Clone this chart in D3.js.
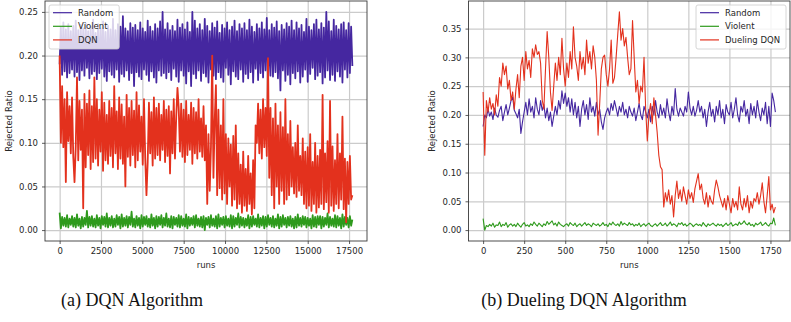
<!DOCTYPE html>
<html>
<head>
<meta charset="utf-8">
<script src="https://cdn.jsdelivr.net/npm/d3@7/dist/d3.min.js"></script>
<style>
  body { margin:0; background:#fff; }
  svg { display:block; }
  .axis text { font-family:"DejaVu Sans", sans-serif; font-size:8.5px; fill:#262626; }
  .axis path { display:none; }
  .axis line { stroke:#333; stroke-width:0.8; }
  .grid line { stroke:#cbcbcb; stroke-width:1.2; }
  .grid path { display:none; }
  .label { font-family:"DejaVu Sans", sans-serif; font-size:8.5px; fill:#262626; }
  .caption { font-family:"Liberation Serif", serif; font-size:18px; fill:#111; }
</style>
</head>
<body>
<div id="chart"></div>
<script>
// all ratios below are in thousandths (215 -> 0.215)

var seriesColors = ["#4527a0", "#2e9a1c", "#e3311d"];
var dqnNames = ["Random", "Violent", "DQN"];
var duelNames = ["Random", "Violent", "Dueling DQN"];
var captions = ["(a) DQN Algorithm", "(b) Dueling DQN Algorithm"];

// (a) one sample every 75 runs
var dqnStep = 75;
var dqnRandom = [
  190,232,178,238,182,230,175,236,180,228, 184,234,176,240,181,229,172,235,183,231,
  177,237,186,228,174,233,179,241,182,226, 173,236,180,231,185,239,176,227,171,234,
  182,230,178,242,175,229,184,236,170,233, 179,245,176,231,183,228,172,237,180,232,
  165,235,181,229,176,238,173,231,184,227, 178,240,171,233,182,228,175,236,169,231,
  183,239,177,250,180,230,174,237,181,229, 172,234,185,228,176,241,170,232,183,236,
  177,230,168,238,182,227,165,250,179,240, 174,231,183,236,171,229,180,242,176,234,
  169,228,184,237,177,232,173,239,181,226, 175,235,170,231,186,238,178,229,167,233,
  182,240,176,228,173,236,184,231,170,237, 179,229,174,241,181,233,169,227,185,236,
  172,231,180,238,175,230,183,243,171,229, 177,236,176,232,181,239,174,228,160,235,
  183,230,171,237,178,233,167,240,180,229, 174,238,182,231,169,235,176,227,184,242,
  170,233,179,229,186,236,173,241,177,230, 181,237,168,232,175,250,183,239,172,228,
  178,241,171,234,182,230,176,236,169,238, 184,229,175,237,180,233,188
];
var dqnViolent = [
  20,2,15,5,14,4,17,3,13,6, 16,4,14,3,18,5,13,2,15,4, 14,6,22,3,15,5,16,4,13,3,
  17,5,14,2,16,6,15,4,19,3, 14,5,16,3,13,4,17,6,15,2, 18,4,14,5,16,3,15,6,21,4,
  13,3,16,5,14,2,17,4,15,6, 16,4,13,3,18,5,14,2,16,4, 15,6,17,3,14,5,19,4,13,3,
  16,2,15,6,14,4,17,3,16,5, 13,4,18,2,15,5,14,6,16,3, 17,5,13,4,15,3,16,0,14,6,
  15,3,17,5,13,4,16,2,18,4, 14,6,15,3,16,5,13,4,17,2, 16,4,14,6,19,3,15,5,14,3,
  13,5,17,2,15,4,16,6,13,4, 18,3,14,5,16,2,15,4,17,6, 14,4,16,3,13,5,18,2,15,4,
  17,6,14,3,15,5,16,4,13,2, 15,3,18,5,14,4,16,6,15,3, 14,5,13,2,17,4,15,3,16,6,
  16,2,15,4,14,6,19,3,15,5, 13,4,17,3,16,5,14,2,18,4, 15,6,14,3,16,5,12
];
var dqnAgent = [
  200,100,165,95,150,55,158,102,142,88, 152,84,55,96,175,80,148,92,138,25,
  156,72,145,86,160,70,142,78,175,82, 150,74,138,90,158,68,146,80,132,76,
  148,85,140,72,165,88,136,70,152,82, 144,76,130,50,155,84,140,74,148,86,
  137,72,158,80,143,90,130,75,150,83, 40,78,146,88,135,74,152,82,140,86,
  145,80,132,92,148,78,138,85,142,65, 136,88,150,82,130,163,140,90,145,84,
  138,78,148,86,132,92,146,76,140,88, 135,82,150,90,128,84,142,80,120,30,
  110,45,95,200,60,125,166,40,138,48, 120,35,150,42,110,30,105,50,98,28,
  108,35,120,25,88,30,75,20,90,28, 70,22,85,30,65,18,80,25,120,100,
  145,88,138,82,150,95,140,85,197,60, 140,40,128,25,145,50,120,30,135,45,
  118,30,150,35,110,40,125,50,95,42, 100,38,120,45,85,40,105,30,90,25,
  95,28,110,22,78,30,100,20,85,26, 92,30,155,24,88,32,102,20,148,28,
  96,22,80,30,110,25,88,35,130,24, 82,9,78,30,85,35,40
];
var dqnXTicks = [0, 2500, 5000, 7500, 10000, 12500, 15000, 17500];
var dqnYTicks = [0, 0.05, 0.10, 0.15, 0.20, 0.25];

// (b) one sample every 10 runs
var duelStep = 10;
var duelRandom = [
  180,200,195,210,198,205,192,212,200,196,208,
  215,190,205,218,200,212,225,231,208,202,
  195,210,168,188,205,
  222,200,228,205,215,195,230,210,200,225,208,218,195,212,190,
  205,180,198,215,200,
  225,210,242,220,238,215,230,205,228,200,
  222,195,215,180,210,225,200,218,192,230,205,215,198,222,200,
  210,188,175,195,205,212,
  200,220,208,225,212,198,215,205,222,200,210,195,215,205,
  198,212,190,205,220,200,192,215,205,195,210,188,215,200,225,205,195,218,200,212,
  195,228,205,190,215,
  200,246,210,198,212,
  205,198,215,205,240,212,200,215,198,208,
  225,205,215,195,210,180,205,222,198,210,
  188,215,200,225,195,210,185,218,205,200,
  222,195,210,230,200,188,215,205,225,198,
  210,185,220,200,215,195,225,205,190,212,
  200,222,185,215,180,238,225,205
];
var duelViolent = [
  20,0,8,6,10,7,12,5,9,8, 14,6,10,8,13,5,9,11,7,10, 6,12,8,5,10,13,7,9,6,11,
  8,14,10,7,12,9,6,11,8,15, 10,13,16,9,12,7,14,10,8,6, 9,11,7,13,10,8,12,6,9,11,
  7,10,13,8,11,9,6,12,10,8, 11,7,9,13,8,10,6,12,9,14, 10,8,11,7,15,9,12,10,8,13,
  9,11,7,10,8,12,6,9,11,7, 10,12,8,6,9,11,7,10,13,8, 9,12,7,10,14,8,11,9,6,12,
  10,13,8,11,7,9,12,10,6,9, 11,8,10,7,13,9,6,11,8,10, 12,9,7,11,8,10,6,9,12,8,
  10,13,7,9,11,8,14,10,12,16, 11,9,13,8,10,6,12,9,11,14, 8,10,13,9,7,12,11,21,8
];
var duelAgent = [
  240,130,225,205,230,210,220,
  200,235,215,265,
  250,290,270,285,
  245,260,225,240,210,
  245,270,230,285,300,260,310,280,295,265,
  315,300,322,305,310,290,
  226,210,
  280,345,300,
  240,208,
  250,290,260,300,270,333,280,
  250,
  290,265,310,280,353,300,
  285,260,310,280,
  300,270,330,290,310,280,320,300,260,
  165,
  220,280,300,304,270,250,
  280,330,255,265,
  300,340,379,
  330,350,320,335,300,
  270,280,
  364,
  300,240,260,220,250,
  240,300,
  210,155,200,
  220,185,230,200,
  170,130,110,
  105,
  40,
  65,50,70,45,60,
  23,
  60,85,55,70,
  50,75,60,45,70,55,65,48,72,85,
  98,
  70,80,55,45,65,40,60,50,45,
  70,87,75,60,50,
  40,55,35,60,45,30,55,40,50,35,
  75,
  45,35,55,40,60,30,50,38,55,
  50,65,45,60,
  82,
  50,30,
  60,
  93,
  35,45,30,40
];
var duelXTicks = [0, 250, 500, 750, 1000, 1250, 1500, 1750];
var duelYTicks = [0, 0.05, 0.10, 0.15, 0.20, 0.25, 0.30, 0.35];

var svg = d3.select("#chart").append("svg")
  .attr("width", 791)
  .attr("height", 322);

drawPanel({
  box: {left:45, right:367, top:1, bottom:241},
  step: dqnStep,
  series: [dqnRandom, dqnViolent, dqnAgent],
  names: dqnNames,
  xTicks: dqnXTicks,
  yTicks: dqnYTicks,
  legendSide: "left",
  lineWidth: 1.8,
  yLabelX: 12
});

drawPanel({
  box: {left:468.5, right:790, top:1, bottom:241},
  step: duelStep,
  series: [duelRandom, duelViolent, duelAgent],
  names: duelNames,
  xTicks: duelXTicks,
  yTicks: duelYTicks,
  legendSide: "right",
  lineWidth: 1.1,
  yLabelX: 435
});

// sub-figure captions
svg.selectAll(".caption")
  .data(captions).enter()
  .append("text")
  .attr("class", "caption")
  .attr("x", function(d, i){ return i == 0 ? 132 : 584; })
  .attr("y", 306)
  .attr("text-anchor", "middle")
  .text(function(d){ return d; });

function drawPanel(p) {
  var b = p.box;
  var w = b.right - b.left, h = b.bottom - b.top;
  var g = svg.append("g").attr("transform", "translate(" + b.left + "," + b.top + ")");

  var data = p.series.map(function(s){
    return s.map(function(v, i){ return {run: i * p.step, val: v / 1000}; });
  });
  var all = [].concat.apply([], data);

  // matplotlib-like 5% margins
  var xExt = d3.extent(all, function(d){ return d.run; });
  var yExt = d3.extent(all, function(d){ return d.val; });
  var xPad = (xExt[1] - xExt[0]) * 0.05, yPad = (yExt[1] - yExt[0]) * 0.05;

  var x = d3.scaleLinear().domain([xExt[0] - xPad, xExt[1] + xPad]).range([0, w]);
  var y = d3.scaleLinear().domain([yExt[0] - yPad, yExt[1] + yPad]).range([h, 0]);

  // grid
  g.append("g").attr("class", "grid")
    .attr("transform", "translate(0," + h + ")")
    .call(d3.axisBottom(x).tickValues(p.xTicks).tickSize(-h).tickFormat(""));
  g.append("g").attr("class", "grid")
    .call(d3.axisLeft(y).tickValues(p.yTicks).tickSize(-w).tickFormat(""));

  var line = d3.line()
    .x(function(d){ return x(d.run); })
    .y(function(d){ return y(d.val); });

  g.selectAll(".series")
    .data(data).enter()
    .append("path")
    .attr("class", "series")
    .attr("d", line)
    .style("fill", "none")
    .style("stroke", function(d, i){ return seriesColors[i]; })
    .style("stroke-width", p.lineWidth)
    .style("stroke-linejoin", "round");

  // frame
  g.append("rect")
    .attr("width", w).attr("height", h)
    .style("fill", "none")
    .style("stroke", "#3a3a3a")
    .style("stroke-width", 0.9);

  g.append("g").attr("class", "axis")
    .attr("transform", "translate(0," + h + ")")
    .call(d3.axisBottom(x).tickValues(p.xTicks).tickSize(3).tickPadding(3.5).tickFormat(d3.format("d")));
  g.append("g").attr("class", "axis")
    .call(d3.axisLeft(y).tickValues(p.yTicks).tickSize(3).tickPadding(4).tickFormat(d3.format(".2f")));

  // axis titles
  svg.append("text").attr("class", "label")
    .attr("x", b.left + w / 2).attr("y", 268)
    .attr("text-anchor", "middle")
    .text("runs");
  svg.append("text").attr("class", "label")
    .attr("transform", "translate(" + p.yLabelX + "," + (b.top + h / 2) + ") rotate(-90)")
    .attr("text-anchor", "middle")
    .text("Rejected Ratio");

  // legend
  var lg = g.append("g");
  var box = lg.append("rect")
    .attr("rx", 2).attr("ry", 2)
    .style("fill", "#fff").style("fill-opacity", 0.8)
    .style("stroke", "#cccccc").style("stroke-width", 0.8);
  var items = lg.selectAll(".item")
    .data(p.names).enter().append("g")
    .attr("transform", function(d, i){ return "translate(0," + (7.7 + i * 13.6) + ")"; });
  items.append("line")
    .attr("x1", 4).attr("x2", 23)
    .style("stroke", function(d, i){ return seriesColors[i]; })
    .style("stroke-width", 1.2);
  items.append("text").attr("class", "label")
    .attr("x", 29).attr("dy", "0.35em")
    .text(function(d){ return d; });

  var tw = d3.max(items.selectAll("text").nodes(), function(n){ return n.getBBox().width; });
  var bw = 29 + tw + 6, bh = 44;
  box.attr("width", bw).attr("height", bh);
  var lx = p.legendSide == "left" ? 4 : w - 4 - bw;
  lg.attr("transform", "translate(" + lx + ",4)");
}
</script>
</body>
</html>
